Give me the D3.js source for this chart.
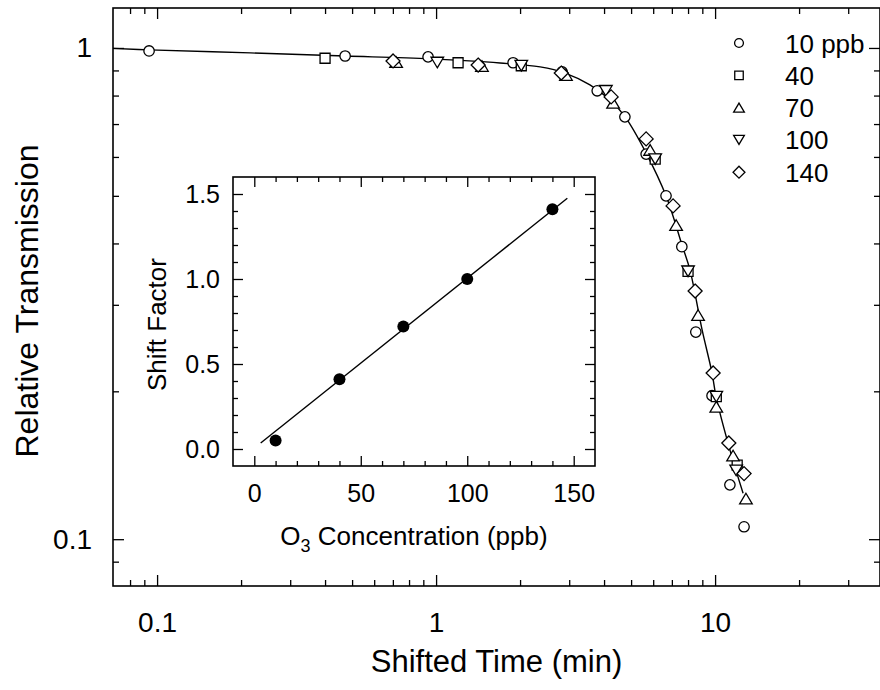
<!DOCTYPE html>
<html>
<head>
<meta charset="utf-8">
<script src="https://cdn.jsdelivr.net/npm/d3@7"></script>
<style>
  html, body { margin: 0; padding: 0; background: #fff; }
  svg { display: block; font-family: "Liberation Sans", Arial, Helvetica, sans-serif; }
</style>
</head>
<body>
<svg id="chart" width="880" height="690"></svg>
<script>
// ---------- data ----------
const seriesNames = ["10 ppb", "40", "70", "100", "140"];

const time10  = [0.0936, 0.472, 0.936, 1.888, 2.83, 3.78, 4.75, 5.66, 6.67, 7.6, 8.53, 9.75, 11.3, 12.7];
const trans10 = [0.986, 0.963, 0.959, 0.933, 0.894, 0.818, 0.724, 0.608, 0.50, 0.394, 0.264, 0.196, 0.129, 0.106];

const time40  = [0.40, 1.199, 2.02, 6.1, 8.0, 10.1, 12.0];
const trans40 = [0.953, 0.933, 0.92, 0.594, 0.351, 0.195, 0.1415];

const time70  = [0.719, 1.46, 2.92, 4.31, 5.85, 7.25, 8.69, 10.1, 11.6, 12.9];
const trans70 = [0.936, 0.919, 0.881, 0.773, 0.62, 0.436, 0.286, 0.186, 0.148, 0.121];

const time100  = [1.01, 2.02, 4.06, 6.1, 8.0, 10.1, 11.9];
const trans100 = [0.934, 0.92, 0.818, 0.594, 0.351, 0.195, 0.138];

const time140  = [0.701, 1.415, 2.81, 4.24, 5.66, 7.07, 8.48, 9.84, 11.2, 12.7];
const trans140 = [0.941, 0.923, 0.889, 0.795, 0.653, 0.477, 0.32, 0.218, 0.157, 0.136];

// master curve
const curveTime  = [0.0695, 0.0936, 0.216, 0.472, 0.952, 1.695, 2.36, 2.90, 3.56, 4.20, 4.76, 5.66, 6.67, 7.61, 8.13, 8.98, 9.75, 10.08, 11.3, 12.6];
const curveTrans = [0.998, 0.991, 0.977, 0.963, 0.950, 0.932, 0.915, 0.889, 0.841, 0.784, 0.724, 0.611, 0.50, 0.397, 0.353, 0.267, 0.218, 0.195, 0.152, 0.124];

// main axes ticks
const xMajor = [0.1, 1, 10];
const xMajorLabels = ["0.1", "1", "10"];
const xMinor = [0.08, 0.09, 0.2, 0.3, 0.4, 0.5, 0.6, 0.7, 0.8, 0.9, 2, 3, 4, 5, 6, 7, 8, 9, 20, 30];
const yMajor = [0.1, 1];
const yMajorLabels = ["0.1", "1"];
const yMinor = [0.09, 0.2, 0.3, 0.4, 0.5, 0.6, 0.7, 0.8, 0.9];

// inset
const o3Conc = [10, 40, 70, 100, 140];
const shiftFactor = [0.05, 0.41, 0.72, 1.0, 1.41];
const fitConc = [3, 147];
const fitShift = [0.035, 1.475];
const insetXMajor = [0, 50, 100, 150];
const insetXMinor = [10, 20, 30, 40, 60, 70, 80, 90, 110, 120, 130, 140];
const insetYMajor = [0, 0.5, 1.0, 1.5];
const insetYLabels = ["0.0", "0.5", "1.0", "1.5"];
const insetYMinor = [0.1, 0.2, 0.3, 0.4, 0.6, 0.7, 0.8, 0.9, 1.1, 1.2, 1.3, 1.4];

// ---------- layout ----------
const svg = d3.select("#chart");
const M = { left: 113, right: 880, top: 8, bottom: 586 };
const x = d3.scaleLog().domain([0.0695, 39]).range([M.left, M.right]);
const y = d3.scaleLog().domain([0.0803, 1.206]).range([M.bottom, M.top]);

const tickFont = 28;

function styleAxis(g) {
  g.select(".domain").remove();
  g.selectAll(".tick line").attr("stroke", "#000").attr("stroke-width", 1.3);
  g.selectAll(".tick text").attr("fill", "#000").attr("font-family", "Liberation Sans, Arial, sans-serif");
}

// frame
svg.append("rect")
  .attr("x", M.left).attr("y", M.top)
  .attr("width", M.right - M.left).attr("height", M.bottom - M.top)
  .attr("fill", "none").attr("stroke", "#000").attr("stroke-width", 1.6);

// bottom axis
svg.append("g").attr("transform", `translate(0,${M.bottom})`)
  .call(d3.axisBottom(x).tickValues(xMajor).tickSize(-11).tickPadding(26)
    .tickFormat((d, i) => xMajorLabels[i]))
  .call(styleAxis)
  .selectAll("text").attr("font-size", tickFont);
svg.append("g").attr("transform", `translate(0,${M.bottom})`)
  .call(d3.axisBottom(x).tickValues(xMinor).tickSize(-6).tickFormat(""))
  .call(styleAxis);
// top axis
svg.append("g").attr("transform", `translate(0,${M.top})`)
  .call(d3.axisTop(x).tickValues(xMajor).tickSize(-11).tickFormat(""))
  .call(styleAxis);
svg.append("g").attr("transform", `translate(0,${M.top})`)
  .call(d3.axisTop(x).tickValues(xMinor).tickSize(-6).tickFormat(""))
  .call(styleAxis);
// left axis
svg.append("g").attr("transform", `translate(${M.left},0)`)
  .call(d3.axisLeft(y).tickValues(yMajor).tickSize(-11).tickPadding(21)
    .tickFormat((d, i) => yMajorLabels[i]))
  .call(styleAxis)
  .selectAll("text").attr("font-size", tickFont);
svg.append("g").attr("transform", `translate(${M.left},0)`)
  .call(d3.axisLeft(y).tickValues(yMinor).tickSize(-6).tickFormat(""))
  .call(styleAxis);
// right axis
svg.append("g").attr("transform", `translate(${M.right},0)`)
  .call(d3.axisRight(y).tickValues(yMajor).tickSize(-11).tickFormat(""))
  .call(styleAxis);
svg.append("g").attr("transform", `translate(${M.right},0)`)
  .call(d3.axisRight(y).tickValues(yMinor).tickSize(-6).tickFormat(""))
  .call(styleAxis);

// axis titles
svg.append("text")
  .attr("x", (M.left + M.right) / 2).attr("y", 672)
  .attr("text-anchor", "middle").attr("font-size", 31).attr("fill", "#000")
  .text("Shifted Time (min)");
svg.append("text")
  .attr("transform", `translate(38,${(M.top + M.bottom) / 2 + 4}) rotate(-90)`)
  .attr("text-anchor", "middle").attr("font-size", 32).attr("fill", "#000")
  .text("Relative Transmission");

// ---------- master curve ----------
const curveData = curveTime.map((t, i) => [t, curveTrans[i]]);
svg.append("path")
  .datum(curveData)
  .attr("fill", "none").attr("stroke", "#000").attr("stroke-width", 1.4)
  .attr("d", d3.line().x(d => x(d[0])).y(d => y(d[1])).curve(d3.curveCatmullRom.alpha(0.5)));

// ---------- symbols ----------
const symCircle = { draw(c, s) { const r = 5.2 * s; c.moveTo(r, 0); c.arc(0, 0, r, 0, 2 * Math.PI); } };
const symSquare = { draw(c, s) { const h = 5 * s; c.rect(-h, -h, 2 * h, 2 * h); } };
const symTriUp = { draw(c, s) { const w = 6.3 * s, h = 5.3 * s; c.moveTo(0, -h); c.lineTo(w, h); c.lineTo(-w, h); c.closePath(); } };
const symTriDown = { draw(c, s) { const w = 6.3 * s, h = 5.3 * s; c.moveTo(0, h); c.lineTo(w, -h); c.lineTo(-w, -h); c.closePath(); } };
const symDiamond = { draw(c, s) { const r = 7 * s; c.moveTo(0, -r); c.lineTo(r, 0); c.lineTo(0, r); c.lineTo(-r, 0); c.closePath(); } };

const series = [
  { name: seriesNames[0], t: time10, v: trans10, sym: symCircle },
  { name: seriesNames[1], t: time40, v: trans40, sym: symSquare },
  { name: seriesNames[2], t: time70, v: trans70, sym: symTriUp },
  { name: seriesNames[3], t: time100, v: trans100, sym: symTriDown },
  { name: seriesNames[4], t: time140, v: trans140, sym: symDiamond }
];

series.forEach(s => {
  const pts = s.t.map((t, i) => [t, s.v[i]]);
  svg.append("g").selectAll("path").data(pts).join("path")
    .attr("transform", d => `translate(${x(d[0])},${y(d[1])})`)
    .attr("d", d3.symbol().type(s.sym).size(1))
    .attr("fill", "#fff").attr("stroke", "#000").attr("stroke-width", 1.3);
});

// legend
const legend = svg.append("g");
series.forEach((s, i) => {
  const cy = 43 + i * 32.3;
  legend.append("path")
    .attr("transform", `translate(739,${cy})`)
    .attr("d", d3.symbol().type(s.sym).size(0.85))
    .attr("fill", "#fff").attr("stroke", "#000").attr("stroke-width", 1.3);
  legend.append("text")
    .attr("x", 785).attr("y", cy + 9.5)
    .attr("font-size", 26).attr("fill", "#000")
    .text(s.name);
});

// ---------- inset ----------
const I = { left: 233, right: 595, top: 177, bottom: 466 };
const xi = d3.scaleLinear().domain([-10, 160]).range([I.left, I.right]);
const yi = d3.scaleLinear().domain([-0.1, 1.6]).range([I.bottom, I.top]);
const inset = svg.append("g");
inset.append("rect")
  .attr("x", I.left).attr("y", I.top)
  .attr("width", I.right - I.left).attr("height", I.bottom - I.top)
  .attr("fill", "#fff").attr("stroke", "#000").attr("stroke-width", 1.6);

const insetFont = 25;
inset.append("g").attr("transform", `translate(0,${I.bottom})`)
  .call(d3.axisBottom(xi).tickValues(insetXMajor).tickSize(-10).tickPadding(18).tickFormat(d3.format("d")))
  .call(styleAxis).selectAll("text").attr("font-size", insetFont);
inset.append("g").attr("transform", `translate(0,${I.bottom})`)
  .call(d3.axisBottom(xi).tickValues(insetXMinor).tickSize(-5).tickFormat(""))
  .call(styleAxis);
inset.append("g").attr("transform", `translate(0,${I.top})`)
  .call(d3.axisTop(xi).tickValues(insetXMajor).tickSize(-10).tickFormat(""))
  .call(styleAxis);
inset.append("g").attr("transform", `translate(0,${I.top})`)
  .call(d3.axisTop(xi).tickValues(insetXMinor).tickSize(-5).tickFormat(""))
  .call(styleAxis);
inset.append("g").attr("transform", `translate(${I.left},0)`)
  .call(d3.axisLeft(yi).tickValues(insetYMajor).tickSize(-10).tickPadding(13)
    .tickFormat((d, i) => insetYLabels[i]))
  .call(styleAxis).selectAll("text").attr("font-size", insetFont);
inset.append("g").attr("transform", `translate(${I.left},0)`)
  .call(d3.axisLeft(yi).tickValues(insetYMinor).tickSize(-5).tickFormat(""))
  .call(styleAxis);
inset.append("g").attr("transform", `translate(${I.right},0)`)
  .call(d3.axisRight(yi).tickValues(insetYMajor).tickSize(-10).tickFormat(""))
  .call(styleAxis);
inset.append("g").attr("transform", `translate(${I.right},0)`)
  .call(d3.axisRight(yi).tickValues(insetYMinor).tickSize(-5).tickFormat(""))
  .call(styleAxis);

// fit line
inset.append("path")
  .datum(fitConc.map((c, i) => [c, fitShift[i]]))
  .attr("fill", "none").attr("stroke", "#000").attr("stroke-width", 1.4)
  .attr("d", d3.line().x(d => xi(d[0])).y(d => yi(d[1])));

// points
inset.append("g").selectAll("circle")
  .data(o3Conc.map((c, i) => [c, shiftFactor[i]]))
  .join("circle")
  .attr("cx", d => xi(d[0])).attr("cy", d => yi(d[1])).attr("r", 6)
  .attr("fill", "#000");

// inset titles
const xt = inset.append("text")
  .attr("x", (I.left + I.right) / 2).attr("y", 545)
  .attr("text-anchor", "middle").attr("font-size", 26).attr("fill", "#000");
xt.append("tspan").text("O");
xt.append("tspan").attr("font-size", 18).attr("dy", 7).text("3");
xt.append("tspan").attr("dy", -7).text(" Concentration (ppb)");

inset.append("text")
  .attr("transform", `translate(166,${(I.top + I.bottom) / 2 + 3}) rotate(-90)`)
  .attr("text-anchor", "middle").attr("font-size", 26).attr("fill", "#000")
  .text("Shift Factor");
</script>
</body>
</html>
